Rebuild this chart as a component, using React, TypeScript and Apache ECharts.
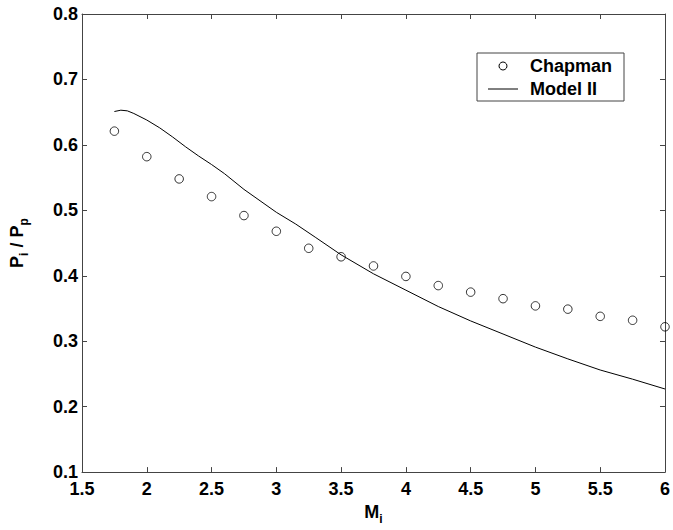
import React, { useEffect, useRef } from "react";
import * as echarts from "echarts";

const chapmanX = [1.75, 2.0, 2.25, 2.5, 2.75, 3.0, 3.25, 3.5, 3.75, 4.0, 4.25, 4.5, 4.75, 5.0, 5.25, 5.5, 5.75, 6.0];
const chapmanY = [0.621, 0.582, 0.548, 0.521, 0.492, 0.468, 0.442, 0.429, 0.415, 0.399, 0.385, 0.375, 0.365, 0.354, 0.349, 0.338, 0.332, 0.322];

const modelX = [1.75, 1.8, 1.85, 1.9, 2.0, 2.1, 2.2, 2.3, 2.4, 2.5, 2.6, 2.75, 3.0, 3.15, 3.3, 3.5, 3.75, 4.0, 4.25, 4.5, 4.75, 5.0, 5.25, 5.5, 5.75, 6.0];
const modelY = [0.651, 0.653, 0.652, 0.648, 0.638, 0.626, 0.612, 0.597, 0.583, 0.570, 0.556, 0.532, 0.497, 0.479, 0.459, 0.432, 0.403, 0.378, 0.353, 0.331, 0.311, 0.291, 0.273, 0.256, 0.242, 0.227];

const legendLabels = ["Chapman", "Model II"];

const FONT = "'Liberation Sans', Arial, Helvetica, sans-serif";
const AXIS_COLOR = "#444";

export default function App() {
  const ref = useRef<HTMLDivElement>(null);
  useEffect(() => {
    if (!ref.current) return;
    const chart = echarts.init(ref.current, null, { renderer: "svg" });
    const labelStyle = { fontFamily: FONT, fontSize: 18, fontWeight: "bold", color: "#000" };
    const baseAxisX = {
      type: "value",
      min: 1.5,
      max: 6,
      interval: 0.5,
      splitLine: { show: false },
      axisLine: { show: true, lineStyle: { color: AXIS_COLOR, width: 1 } },
      axisTick: { show: true, inside: true, length: 5, lineStyle: { color: AXIS_COLOR } },
    };
    const baseAxisY = {
      type: "value",
      min: 0.1,
      max: 0.8,
      interval: 0.1,
      splitLine: { show: false },
      axisLine: { show: true, lineStyle: { color: AXIS_COLOR, width: 1 } },
      axisTick: { show: true, inside: true, length: 5, lineStyle: { color: AXIS_COLOR } },
    };
    const nameRich = {
      b: { fontFamily: FONT, fontSize: 18, fontWeight: "bold", color: "#000", lineHeight: 26, verticalAlign: "middle" },
      s: { fontFamily: FONT, fontSize: 12, fontWeight: "bold", color: "#000", lineHeight: 12, verticalAlign: "bottom" },
    };
    chart.setOption({
      animation: false,
      backgroundColor: "#fff",
      grid: { left: 74, right: 5, top: 14, bottom: 47, containLabel: false },
      xAxis: [
        {
          ...baseAxisX,
          position: "bottom",
          axisLabel: {
            ...labelStyle,
            margin: 8,
            showMinLabel: true,
            showMaxLabel: true,
            formatter: (v: number) => String(v),
          },
          name: "{b|M}{s|i}",
          nameLocation: "middle",
          nameGap: 19,
          nameTextStyle: { rich: nameRich },
        },
        { ...baseAxisX, position: "top", axisLabel: { show: false } },
      ],
      yAxis: [
        {
          ...baseAxisY,
          position: "left",
          axisLabel: {
            ...labelStyle,
            margin: 4,
            showMinLabel: true,
            showMaxLabel: true,
            formatter: (v: number) => v.toFixed(1),
          },
          name: "{b|P}{s|i}{b| / P}{s|p}",
          nameLocation: "middle",
          nameGap: 52,
          nameRotate: 90,
          nameTextStyle: { rich: nameRich },
        },
        { ...baseAxisY, position: "right", axisLabel: { show: false } },
      ],
      series: [
        {
          name: legendLabels[0],
          type: "scatter",
          data: chapmanX.map((x, i) => [x, chapmanY[i]]),
          symbol: "circle",
          symbolSize: 8.5,
          itemStyle: { color: "rgba(0,0,0,0)", borderColor: "#000", borderWidth: 1 },
          clip: false,
        },
        {
          name: legendLabels[1],
          type: "line",
          data: modelX.map((x, i) => [x, modelY[i]]),
          showSymbol: false,
          symbol: "none",
          smooth: false,
          lineStyle: { color: "#000", width: 1 },
        },
      ],
      graphic: [
        {
          type: "rect",
          shape: { x: 477, y: 53, width: 147, height: 48 },
          style: { fill: "#fff", stroke: AXIS_COLOR, lineWidth: 1 },
          z: 10,
        },
        {
          type: "circle",
          shape: { cx: 503, cy: 66, r: 4 },
          style: { fill: "none", stroke: "#000", lineWidth: 1 },
          z: 11,
        },
        {
          type: "line",
          shape: { x1: 488, y1: 89, x2: 518, y2: 89 },
          style: { stroke: "#000", lineWidth: 1 },
          z: 11,
        },
        {
          type: "text",
          x: 530,
          y: 66,
          style: { text: legendLabels[0], font: `bold 18px ${FONT}`, fill: "#000", verticalAlign: "middle" },
          z: 11,
        },
        {
          type: "text",
          x: 530,
          y: 89,
          style: { text: legendLabels[1], font: `bold 18px ${FONT}`, fill: "#000", verticalAlign: "middle" },
          z: 11,
        },
      ],
    });
    return () => chart.dispose();
  }, []);
  return <div ref={ref} style={{ position: "absolute", left: 0, top: 0, width: 673, height: 530 }} />;
}
